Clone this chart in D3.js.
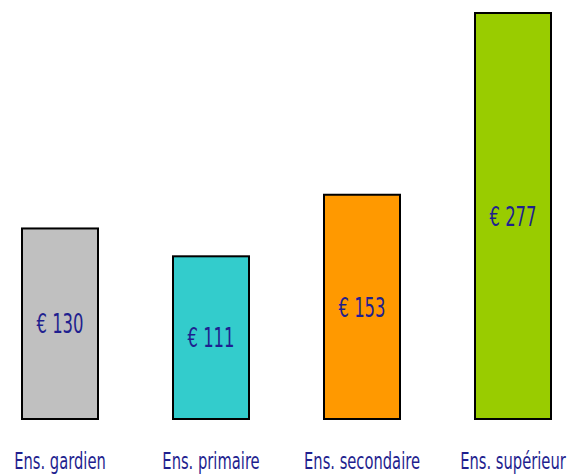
<!DOCTYPE html>
<html>
<head>
<meta charset="utf-8">
<script src="https://cdn.jsdelivr.net/npm/d3@7"></script>
<style>
  html, body { margin: 0; padding: 0; background: #fff; }
  svg { display: block; }
  text { font-family: "DejaVu Sans", sans-serif; fill: #1f1f8f; }
</style>
</head>
<body>
<svg id="chart" width="571" height="476"></svg>
<script>
// Average cost per level of education (euros)
const categories = ["Ens. gardien", "Ens. primaire", "Ens. secondaire", "Ens. supérieur"];
const values = [130, 111, 153, 277];
const colors = ["#c0c0c0", "#33cccc", "#ff9900", "#99cc00"];

const width = 571, height = 476;
const margin = { top: 13, right: 20, bottom: 57, left: 22 };

// narrow lettering: a horizontally compressed sans
const valueSquash = 0.61, labelSquash = 0.64;

const svg = d3.select("#chart");

const x = d3.scaleBand()
  .domain(categories)
  .range([margin.left, width - margin.right])
  .paddingInner(0.4967)
  .paddingOuter(0);

const y = d3.scaleLinear()
  .domain([0, d3.max(values)])
  .range([height - margin.bottom, margin.top]);

const data = categories.map((c, i) => ({ cat: c, value: values[i], color: colors[i] }));

svg.selectAll("rect.bar")
  .data(data)
  .join("rect")
  .attr("class", "bar")
  .attr("x", d => x(d.cat))
  .attr("y", d => y(d.value))
  .attr("width", x.bandwidth())
  .attr("height", d => y(0) - y(d.value))
  .attr("fill", d => d.color)
  .attr("stroke", "#000")
  .attr("stroke-width", 2);

svg.selectAll("text.value")
  .data(data)
  .join("text")
  .attr("class", "value")
  .attr("transform", d => `translate(${x(d.cat) + x.bandwidth() / 2},${(y(d.value) + y(0)) / 2}) scale(${valueSquash},1)`)
  .attr("dy", "0.36em")
  .attr("text-anchor", "middle")
  .attr("font-size", 27)
  .text(d => "€ " + d.value);

// Category labels below the bars
const xAxis = d3.axisBottom(x).tickSize(0).tickPadding(0);
const axisG = svg.append("g")
  .attr("transform", `translate(0,469)`)
  .attr("font-family", null)
  .attr("font-size", null)
  .call(xAxis);
axisG.select(".domain").remove();
axisG.selectAll("text")
  .attr("dy", null)
  .attr("y", 0)
  .attr("font-size", 23)
  .attr("fill", null)
  .attr("transform", `scale(${labelSquash},1)`);
</script>
</body>
</html>
